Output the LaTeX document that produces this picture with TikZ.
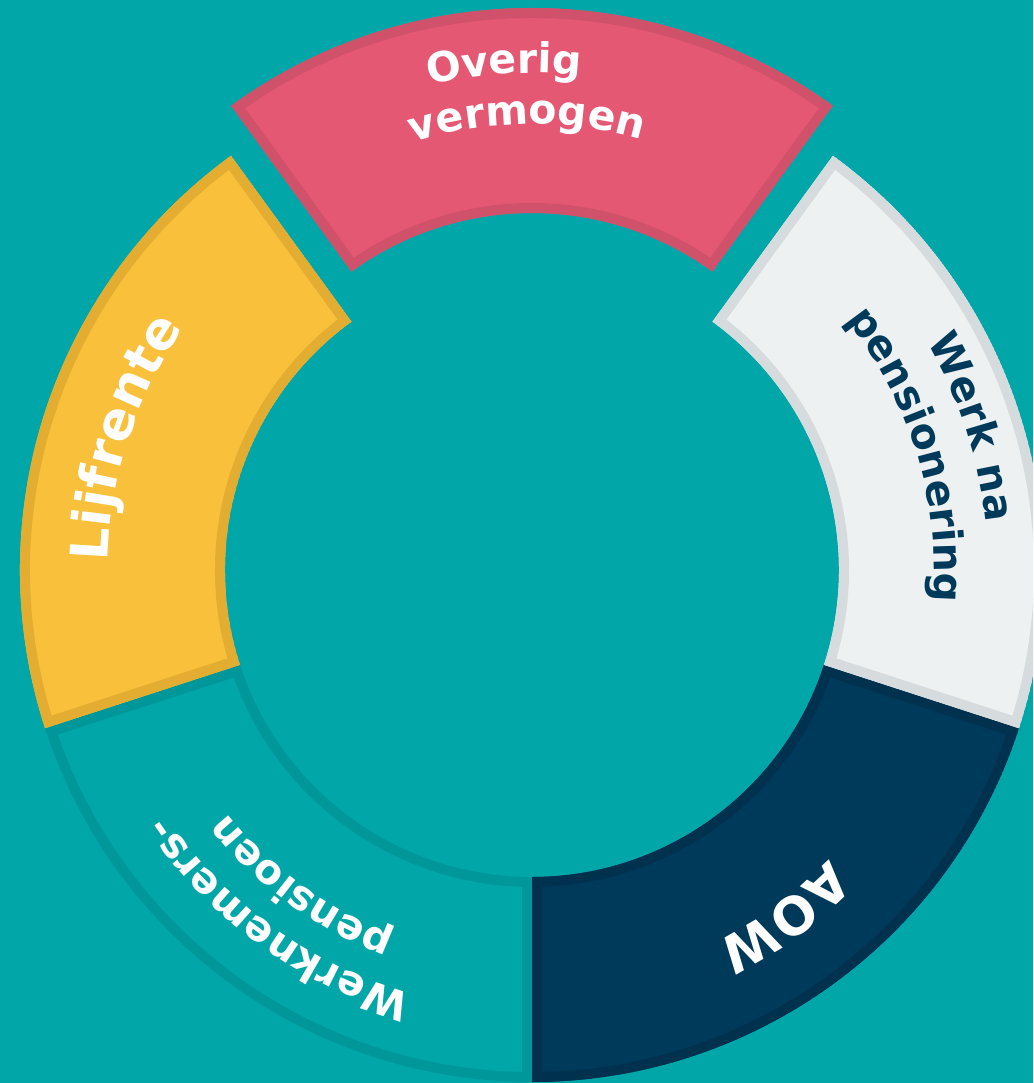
\documentclass[tikz,border=0pt]{standalone}
\usepackage{fontspec}
\setmainfont{DejaVu Sans}
\usepackage{tikz}
\usetikzlibrary{decorations.text}
\definecolor{bgteal}{HTML}{00A6A8}
\definecolor{pensfill}{HTML}{00A6A8}
\definecolor{pensline}{HTML}{00979A}
\definecolor{aowfill}{HTML}{003A5B}
\definecolor{aowline}{HTML}{00324F}
\definecolor{werkfill}{HTML}{EDF1F2}
\definecolor{werkline}{HTML}{D6DBDD}
\definecolor{overfill}{HTML}{E55874}
\definecolor{overline}{HTML}{D0516A}
\definecolor{lijffill}{HTML}{F8C03B}
\definecolor{lijfline}{HTML}{E2AD31}
\tikzset{ x=1pt, y=1pt, curved/.style 2 args={decorate, decoration={text along path, text align=center, text color=#1, text={#2}}} }
\def\myRin{307}
\def\myRout{512}
\newcommand{\ringpath}[2]{(#1:\myRin) arc[start angle=#1, end angle=#2, radius=\myRin] -- (#2:\myRout) arc[start angle=#2, end angle=#1, radius=\myRout] -- cycle}
\newcommand{\drawseg}[4]{\begin{scope}\clip \ringpath{#1}{#2}; \fill[#3] \ringpath{#1}{#2}; \draw[#4, line width=20pt] \ringpath{#1}{#2};\end{scope}}
\newcommand{\segfont}{\bfseries\fontsize{41}{49}\selectfont}
\newcommand{\bigsegfont}{\bfseries\fontsize{52}{62}\selectfont}

\begin{document}
\begin{tikzpicture}
\useasboundingbox (-532,-513) rectangle (501,570);
\fill[bgteal] (-532,-513) rectangle (501,570);
\clip (-532,-513) rectangle (501,570);
% ring segments, 72 degrees each
\drawseg{198}{270}{pensfill}{pensline}
\drawseg{270}{342}{aowfill}{aowline}
\drawseg{-18}{54}{werkfill}{werkline}
\drawseg{126}{198}{lijffill}{lijfline}
\begin{scope}[shift={(0,50)}]
\drawseg{54}{126}{overfill}{overline}
\path[curved={white}{|\segfont|Overig}] (129.5:447) arc[start angle=129.5, end angle=57.5, radius=447];
\path[curved={white}{|\segfont|vermogen}] (126.7:396) arc[start angle=126.7, end angle=54.7, radius=396];
\end{scope}
% labels along the ring, clockwise
\path[curved={white}{|\bigsegfont|Lijfrente}] (198:424) arc[start angle=198, end angle=126, radius=424];
\path[curved={aowfill}{|\segfont|Werk na}] (54:456) arc[start angle=54, end angle=-18, radius=456];
\path[curved={aowfill}{|\segfont|pensionering}] (53:402) arc[start angle=53, end angle=-19, radius=402];
\path[curved={white}{|\bigsegfont|AOW}] (342:415) arc[start angle=342, end angle=270, radius=415];
\path[curved={white}{|\segfont|Werknemers-}] (270:441) arc[start angle=270, end angle=198, radius=441];
\path[curved={white}{|\segfont|pensioen}] (270:390) arc[start angle=270, end angle=198, radius=390];
\end{tikzpicture}
\end{document}
